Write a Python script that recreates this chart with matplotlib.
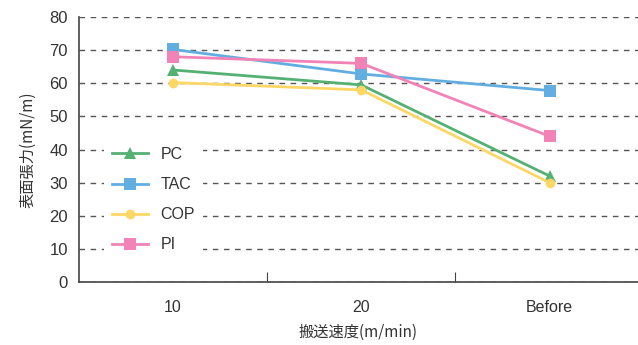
import numpy as np
import matplotlib.pyplot as plt

plt.rcParams['font.family'] = ['Liberation Sans', 'Noto Sans CJK JP', 'DejaVu Sans']

categories = ["10", "20", "Before"]
pc = [64, 59.5, 32]
tac = [70.2, 62.8, 57.8]
cop = [60.2, 58, 30]
pi = [68, 66, 44]

series = [
    ("PC", pc, "#55b074", "^", 8),
    ("TAC", tac, "#62aee0", "s", 8),
    ("COP", cop, "#fdd766", "o", 7),
    ("PI", pi, "#f283b6", "s", 8),
]

fig = plt.figure(figsize=(6.38, 3.45), dpi=100)
ax = fig.add_axes([79 / 638, 63 / 345, 1 - 79 / 638, 265 / 345])

x = np.arange(len(categories))
for name, vals, col, mk, ms in series:
    ax.plot(x, vals, color=col, marker=mk, markersize=ms, linewidth=2, label=name,
            markeredgewidth=0, zorder=3)

ax.set_ylim(0, 80)
ax.set_yticks(np.arange(0, 81, 10))
ax.set_xlim(-0.5, 2.47)
ax.set_xticks([0.5, 1.5])
ax.set_xticklabels([])
ax.set_xticks(x, minor=True)
ax.set_xticklabels(categories, minor=True)
ax.tick_params(axis='x', which='major', direction='in', length=7, color='#444444')
ax.tick_params(axis='x', which='minor', length=0, pad=13, labelsize=11.5, labelcolor='#333333')
ax.tick_params(axis='y', length=0, pad=8, labelsize=12, labelcolor='#333333')

ax.yaxis.grid(True, linestyle=(0, (4, 4)), color='#555555', linewidth=1)
ax.set_axisbelow(True)
for s in ['top', 'right']:
    ax.spines[s].set_visible(False)
for s in ['left', 'bottom']:
    ax.spines[s].set_color('#444444')
    ax.spines[s].set_linewidth(1.2)

ax.set_ylabel("表面張力(mN/m)", family=['Noto Sans CJK JP'], fontsize=11, color='#333333', labelpad=9)
ax.set_xlabel("搬送速度(m/min)", family=['Noto Sans CJK JP'], fontsize=11, color='#333333', labelpad=6)

leg = ax.legend(loc='upper left', bbox_to_anchor=(0.03, 0.57), frameon=True, framealpha=1,
                edgecolor='none', facecolor='white', fontsize=11.5, handlelength=2.3,
                labelspacing=0.95, borderpad=0.5, handletextpad=0.75)
for t in leg.get_texts():
    t.set_color('#333333')

fig.savefig("out.png", dpi=100)
